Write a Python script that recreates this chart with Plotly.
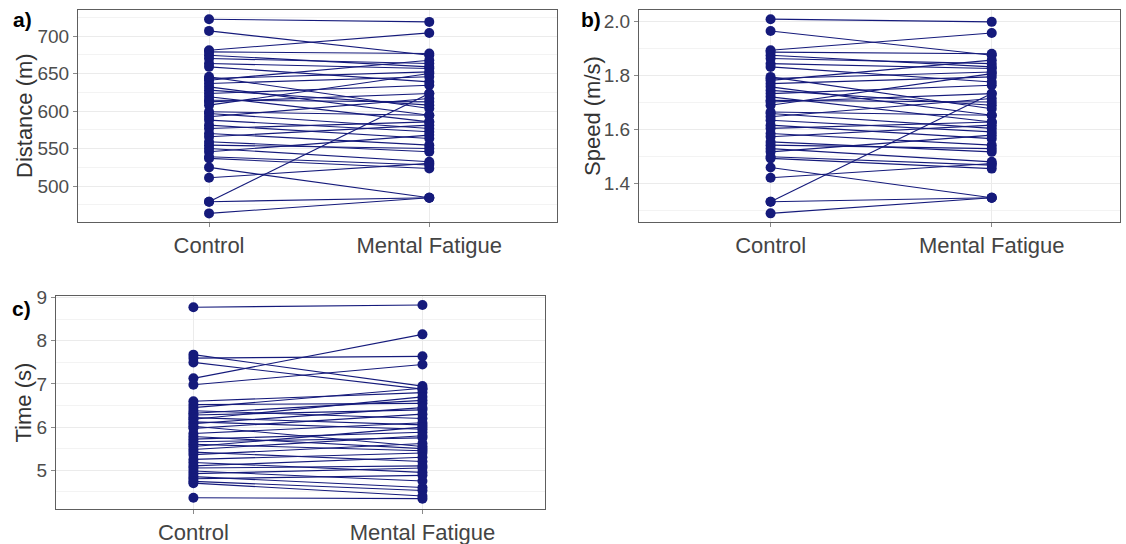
import plotly.graph_objects as go

conditions = ["Control", "Mental Fatigue"]

distance_control = [722.7, 707.1, 681.3, 679.1, 674.6, 670.2, 663.5, 659.1, 643.5, 645.8,
                    641.3, 636.9, 632.4, 628.0, 623.5, 619.1, 614.6, 612.4, 608.0, 599.1,
                    596.9, 592.4, 588.0, 581.3, 576.9, 570.2, 565.8, 559.1, 554.6, 550.2,
                    545.7, 539.1, 536.9, 524.9, 511.1, 479.1, 479.1, 463.5]
distance_fatigue = [719.1, 674.6, 704.4, 676.9, 659.1, 663.5, 656.9, 639.1, 652.4, 603.5,
                    668.0, 645.8, 594.6, 608.0, 634.6, 585.7, 612.4, 623.5, 650.2, 594.6,
                    576.9, 616.9, 572.4, 563.5, 585.7, 554.6, 581.3, 545.7, 550.2, 532.4,
                    568.0, 528.0, 523.5, 484.4, 530.2, 623.5, 484.4, 484.4]

speed_control = [2.008, 1.964, 1.893, 1.886, 1.874, 1.862, 1.843, 1.831, 1.788, 1.794,
                 1.781, 1.769, 1.757, 1.744, 1.732, 1.720, 1.707, 1.701, 1.689, 1.664,
                 1.658, 1.646, 1.633, 1.615, 1.603, 1.584, 1.572, 1.553, 1.541, 1.528,
                 1.516, 1.498, 1.492, 1.458, 1.420, 1.331, 1.331, 1.288]
speed_fatigue = [1.998, 1.874, 1.957, 1.880, 1.831, 1.843, 1.825, 1.775, 1.812, 1.676,
                 1.856, 1.794, 1.652, 1.689, 1.763, 1.627, 1.701, 1.732, 1.806, 1.652,
                 1.603, 1.714, 1.590, 1.565, 1.627, 1.541, 1.615, 1.516, 1.528, 1.479,
                 1.578, 1.467, 1.454, 1.346, 1.473, 1.732, 1.346, 1.346]

time_control = [8.78, 7.68, 7.60, 7.50, 7.13, 6.98, 6.60, 6.52, 6.45, 6.38,
                6.32, 6.28, 6.22, 6.18, 6.12, 6.08, 6.02, 5.97, 5.85, 5.78,
                5.72, 5.66, 5.60, 5.55, 5.48, 5.42, 5.36, 5.25, 5.18, 5.10,
                5.05, 4.98, 4.92, 4.85, 4.80, 4.74, 4.70, 4.36]
time_fatigue = [8.83, 6.95, 7.64, 6.88, 8.15, 7.45, 6.80, 6.55, 6.90, 6.20,
                6.62, 6.40, 6.05, 6.70, 5.95, 6.45, 5.55, 6.30, 6.10, 5.50,
                5.88, 5.75, 5.45, 6.00, 5.80, 5.20, 5.62, 5.40, 4.95, 5.30,
                5.10, 4.75, 5.05, 4.60, 4.88, 4.53, 4.40, 4.34]

panels = [
    dict(key="", ctrl=distance_control, fat=distance_fatigue, title="Distance (m)", label="a)",
         rng=[452, 735], dtick=50, tick0=500, minor=25, fmt="d",
         dx=[78, 557], dy=[10, 222], title_x=24, label_xy=(22, 20)),
    dict(key="2", ctrl=speed_control, fat=speed_fatigue, title="Speed (m/s)", label="b)",
         rng=[1.256, 2.042], dtick=0.2, tick0=1.4, minor=0.1, fmt=".1f",
         dx=[639, 1120], dy=[10, 222], title_x=592, label_xy=(591, 20)),
    dict(key="3", ctrl=time_control, fat=time_fatigue, title="Time (s)", label="c)",
         rng=[4.10, 9.04], dtick=1, tick0=5, minor=0.5, fmt="d",
         dx=[56, 545], dy=[296, 509], title_x=23, label_xy=(21, 308)),
]

W, H = 1126, 544
COL = "#151a7b"
fig = go.Figure()

for p in panels:
    xs, ys = [], []
    for c, f in zip(p["ctrl"], p["fat"]):
        xs += [1, 2, None]
        ys += [c, f, None]
    fig.add_trace(go.Scatter(
        x=xs, y=ys, mode="lines+markers",
        line=dict(color=COL, width=1.1),
        marker=dict(color=COL, size=10),
        xaxis="x" + p["key"], yaxis="y" + p["key"],
        showlegend=False, hoverinfo="skip", cliponaxis=False))

    xdom = [p["dx"][0] / W, p["dx"][1] / W]
    ydom = [1 - p["dy"][1] / H, 1 - p["dy"][0] / H]
    xa = dict(domain=xdom, range=[0.405, 2.58] if p["key"] != "3" else [0.4, 2.535],
              tickvals=[1, 2], ticktext=conditions, automargin=False,
              showgrid=True, gridcolor="#ebebeb", gridwidth=1,
              showline=True, mirror=True, linecolor="#5e5e5e", linewidth=1,
              ticks="outside", ticklen=4, tickcolor="#8a8a8a",
              tickfont=dict(family="Liberation Sans, Arial", size=22, color="#444444"),
              zeroline=False, anchor="y" + p["key"], fixedrange=True)
    ya = dict(domain=ydom, range=p["rng"], dtick=p["dtick"], tick0=p["tick0"],
              tickformat=p["fmt"], automargin=False,
              showgrid=True, gridcolor="#ebebeb", gridwidth=1,
              minor=dict(dtick=p["minor"], tick0=p["tick0"], showgrid=True,
                         gridcolor="#f3f3f3", gridwidth=1),
              showline=True, mirror=True, linecolor="#5e5e5e", linewidth=1,
              ticks="outside", ticklen=4, tickcolor="#8a8a8a",
              tickfont=dict(family="Liberation Sans, Arial", size=19, color="#4d4d4d"),
              zeroline=False, anchor="x" + p["key"], fixedrange=True)
    fig.layout["xaxis" + p["key"]] = xa
    fig.layout["yaxis" + p["key"]] = ya

    fig.add_annotation(x=p["title_x"] / W, y=1 - (p["dy"][0] + p["dy"][1]) / 2 / H,
                       xref="paper", yref="paper", text=p["title"], textangle=-90,
                       showarrow=False, xanchor="center", yanchor="middle",
                       font=dict(family="Liberation Sans, Arial", size=22, color="#333333"))
    fig.add_annotation(x=p["label_xy"][0] / W, y=1 - p["label_xy"][1] / H,
                       xref="paper", yref="paper", text="<b>" + p["label"] + "</b>",
                       showarrow=False, xanchor="center", yanchor="middle",
                       font=dict(family="Liberation Sans, Arial", size=21, color="#000000"))

fig.update_layout(autosize=True, margin=dict(l=0, r=0, t=0, b=0, autoexpand=False),
                  paper_bgcolor="white", plot_bgcolor="white")

fig.write_html("out.html", config={"displayModeBar": False},
               default_width="1126px",
               default_height="544px;position:fixed;top:0;left:0;margin:0",
               post_script="document.body.style.margin='0';document.body.style.overflow='hidden';")
